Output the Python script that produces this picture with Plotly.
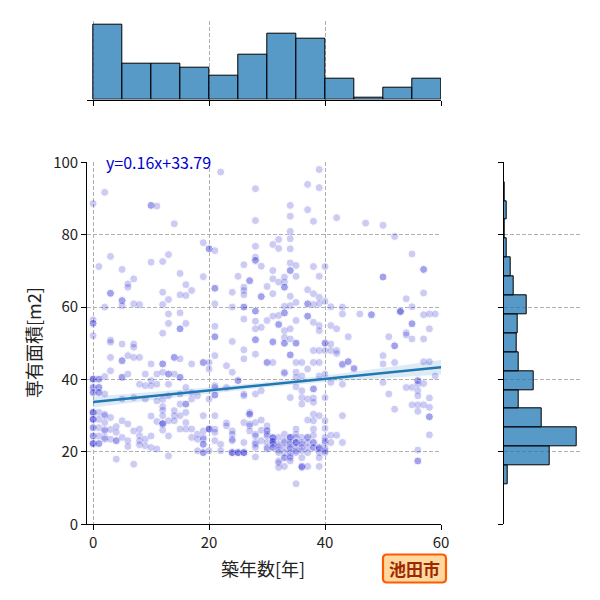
import numpy as np
import plotly.graph_objects as go

# ---------------- data ----------------
ages = [0, 1, 2, 3, 4, 5, 6, 7, 8, 9, 10, 11, 12, 13, 14, 15, 16, 17, 18, 19,
        20, 21, 22, 23, 24, 25, 26, 27, 28, 29, 30, 31, 32, 33, 34, 35, 36, 37, 38, 39,
        40, 41, 42, 43, 44, 45, 46, 47, 48, 50, 51, 52, 53, 54, 55, 56, 57, 58, 59]

area_rows = [
    [88.6, 56.5, 55.5, 55.5, 52.1, 40.1, 40.1, 40.1, 37.8, 37.8, 36.4, 36.4, 30.9, 30.9, 30.9, 29.0, 29.0, 29.0, 26.7, 26.7, 24.4, 24.4, 22.3, 22.3, 22.3],
    [71.2, 40.1, 40.1, 37.8, 37.8, 36.4, 36.4, 30.9, 29.0, 26.7, 24.4, 22.3, 22.3],
    [91.7, 60.0, 40.8, 36.0, 30.4, 30.0, 28.1, 26.2, 25.8, 24.0, 23.5],
    [74.0, 63.8, 63.8, 50.9, 50.3, 46.1, 42.4, 29.5, 26.2, 23.5],
    [27.0, 25.4, 23.1, 23.1, 18.0],
    [70.4, 61.8, 61.8, 60.4, 49.8, 45.2, 45.2, 40.6, 40.6, 34.6, 28.6, 24.0],
    [66.4, 65.5, 46.6, 41.5, 27.7, 23.1, 21.5],
    [67.8, 60.9, 49.8, 48.9, 46.1, 35.0, 25.8, 16.6],
    [60.7, 46.1, 38.7, 26.3, 24.5, 23.1, 22.0],
    [41.5, 38.3, 34.6, 23.5, 21.7],
    [88.1, 88.1, 72.4, 44.3, 39.7, 38.3, 29.9, 24.4, 21.2],
    [87.9, 41.5, 38.7, 34.1, 28.4, 20.8],
    [72.6, 64.1, 60.7, 52.8, 44.3, 44.3, 42.0, 34.5, 32.5, 31.5, 30.0, 27.8, 27.8, 27.8, 26.0],
    [74.5, 62.1, 58.1, 55.5, 41.5, 41.5, 38.7, 35.5, 28.6, 24.4, 18.9],
    [83.0, 46.1, 46.1, 41.5, 31.4, 30.0, 28.6],
    [69.3, 63.4, 58.4, 54.0, 54.0, 45.7, 40.6, 40.6, 36.0, 33.2, 30.0, 26.3],
    [66.2, 63.2, 55.5, 37.8, 33.2, 33.2, 30.9, 28.1, 26.3],
    [64.6, 44.3, 36.4, 34.6, 26.3, 24.0],
    [35.5, 24.9, 23.5, 20.3],
    [77.8, 68.4, 44.7, 44.7, 30.0, 25.8, 24.0, 23.5, 22.1, 22.1, 19.8, 19.8],
    [76.1, 76.1, 44.7, 42.9, 34.6, 26.3, 26.3, 26.3, 20.3],
    [75.6, 65.2, 65.2, 60.9, 54.7, 51.8, 51.8, 46.6, 38.3, 37.8, 35.7, 35.7, 30.0, 26.3, 25.4, 23.1],
    [97.3, 22.1, 20.3],
    [43.8, 37.8, 28.0, 27.2],
    [64.1, 60.0, 50.5, 42.0, 25.8, 24.9, 23.5, 23.1, 19.8, 19.8, 19.8],
    [68.5, 39.7, 39.7, 19.8, 19.8, 19.8],
    [71.7, 65.5, 64.6, 63.4, 60.0, 60.0, 56.7, 48.2, 45.7, 36.0, 35.5, 28.1, 22.6, 19.8, 19.8, 19.8],
    [67.3, 67.3, 30.9, 30.4, 30.4, 27.7, 27.2, 25.8],
    [92.7, 83.9, 76.8, 73.8, 72.9, 72.9, 58.9, 58.9, 56.1, 54.0, 51.0, 51.0, 47.0, 36.0, 28.1, 24.9, 24.4, 22.6, 22.1, 21.2, 18.6],
    [71.3, 62.9, 62.9, 54.4, 36.9, 28.8, 26.0, 23.1],
    [65.7, 56.3, 44.7, 44.7, 27.2, 26.0, 25.8, 24.9, 24.4, 22.6, 21.2, 20.8],
    [77.3, 70.1, 67.8, 63.7, 57.5, 50.5, 50.3, 44.7, 24.0, 24.0, 23.8, 23.0, 23.0, 22.6, 22.1, 21.2, 21.2],
    [78.7, 76.2, 66.9, 57.7, 55.3, 55.1, 24.0, 22.1, 21.5, 20.5, 19.8, 17.5, 17.0, 15.7],
    [68.3, 66.9, 65.5, 65.5, 60.2, 58.4, 58.4, 53.5, 51.6, 50.0, 50.0, 42.0, 41.7, 24.9, 23.1, 22.6, 21.2, 19.8, 18.4, 18.4, 16.0],
    [88.1, 85.1, 80.9, 78.9, 76.1, 72.2, 70.1, 70.1, 63.0, 60.4, 54.0, 51.2, 46.8, 46.8, 35.0, 24.0, 24.0, 24.0, 22.6, 22.1, 21.2, 20.8, 19.8, 18.9, 18.4, 17.5],
    [71.5, 68.5, 61.3, 56.3, 50.1, 50.0, 44.7, 42.0, 40.6, 38.0, 26.3, 24.9, 24.0, 22.6, 22.6, 22.6, 21.2, 20.3, 19.8, 11.2],
    [44.7, 41.0, 36.9, 35.0, 33.2, 24.0, 22.6, 22.1, 21.2, 20.3, 18.4, 16.0, 16.0, 15.7],
    [93.9, 86.9, 64.8, 60.9, 60.9, 57.5, 57.5, 42.9, 34.6, 28.8, 24.0, 24.0, 22.6, 21.2, 19.8, 16.0],
    [83.7, 71.2, 63.7, 60.7, 55.8, 48.0, 44.7, 37.4, 37.4, 34.9, 33.7, 30.4, 28.6, 26.3, 24.6, 22.6, 22.6, 21.2, 21.2],
    [98.0, 93.0, 68.5, 62.7, 61.0, 54.9, 53.5, 48.0, 44.7, 41.0, 30.0, 21.2, 21.2, 20.8, 19.8, 18.4, 16.0],
    [71.2, 61.6, 50.1, 50.0, 48.0, 41.5, 35.0, 28.6, 26.5, 24.0, 23.1, 22.6, 21.0, 20.3, 19.8],
    [60.1, 54.9, 49.8, 48.0, 39.2, 24.6, 22.6],
    [84.7, 54.0, 48.0, 47.2, 24.6],
    [60.0, 58.1, 44.3, 44.1, 38.7, 30.0, 22.6],
    [51.8, 45.0, 44.9],
    [43.2, 42.9],
    [58.1],
    [83.2],
    [57.9, 57.9],
    [82.6, 68.3, 68.3, 46.6, 44.3, 39.2],
    [51.8, 36.0],
    [79.5, 49.3, 49.3, 44.7, 31.8],
    [58.8, 58.8, 58.8],
    [62.3, 52.9, 52.3, 37.8],
    [74.7, 60.1, 55.4, 55.4, 51.2, 37.8, 33.0],
    [39.7, 39.7, 38.7, 36.9, 35.5, 33.0, 31.2, 20.5, 17.5, 17.5],
    [70.4, 70.4, 63.9, 57.9, 51.2, 44.9, 38.9, 33.0],
    [58.1, 54.0, 44.9, 34.9, 32.3, 29.7, 29.7, 24.7],
    [58.1, 41.0],
]

# marginal histogram counts
top_bin_left = [0, 5, 10, 15, 20, 25, 30, 35, 40, 45, 50, 55]
top_counts = [70, 33, 33, 30, 22, 42, 61, 57, 19, 2, 11, 19]
right_bin_start = 11.05
right_bin_width = 5.22
right_counts = [5, 62, 99, 52, 20, 40, 20, 17, 19, 31, 14, 9, 4, 2, 4, 1]

# regression (from the label) and its confidence band half-widths
slope, intercept = 0.16, 33.79
band_x = [0, 10, 20, 30, 40, 50, 60]
band_half = [1.5, 1.1, 0.8, 0.7, 0.9, 1.4, 2.0]

x_ticks = [0, 20, 40, 60]
y_ticks = [0, 20, 40, 60, 80, 100]

# ---------------- build ----------------
years = [a for a, row in zip(ages, area_rows) for _ in row]
area = [v for row in area_rows for v in row]

FONT = "Noto Sans CJK JP"
BAR_FILL = "rgba(31,119,180,0.75)"
GRID = "#b0b0b0"

fig = go.Figure()

bx = np.array(band_x, dtype=float)
line_y = slope * bx + intercept
hb = np.array(band_half)
fig.add_trace(go.Scatter(
    x=list(bx) + list(bx[::-1]),
    y=list(line_y + hb) + list((line_y - hb)[::-1]),
    fill="toself", fillcolor="rgba(31,119,180,0.15)", line=dict(width=0),
    mode="lines", showlegend=False, hoverinfo="skip", xaxis="x", yaxis="y"))

fig.add_trace(go.Scatter(
    x=years, y=area, mode="markers",
    marker=dict(size=8, color="#0000CD", opacity=0.2,
                line=dict(color="white", width=1)),
    showlegend=False, xaxis="x", yaxis="y"))

fig.add_trace(go.Scatter(
    x=[bx[0], bx[-1]], y=[line_y[0], line_y[-1]], mode="lines",
    line=dict(color="#1f77b4", width=2.5), showlegend=False,
    xaxis="x", yaxis="y"))

fig.add_trace(go.Bar(
    x=[b + 2.5 for b in top_bin_left], y=top_counts, width=5,
    marker=dict(color=BAR_FILL, line=dict(color="black", width=1)),
    showlegend=False, xaxis="x2", yaxis="y2"))

right_centers = [right_bin_start + (i + 0.5) * right_bin_width for i in range(len(right_counts))]
fig.add_trace(go.Bar(
    y=right_centers, x=right_counts, width=right_bin_width, orientation="h",
    marker=dict(color=BAR_FILL, line=dict(color="black", width=1)),
    showlegend=False, xaxis="x3", yaxis="y3"))

def px2x(p):
    return p / 600.0

def px2y(p):
    return 1 - p / 600.0

main_xdom = [px2x(87.3), px2x(441)]
main_ydom = [px2y(524.3), px2y(162.3)]

axis_common = dict(
    showline=True, linecolor="black", linewidth=1.2,
    ticks="outside", ticklen=5, tickwidth=1.2, tickcolor="black",
    showgrid=True, gridcolor=GRID, gridwidth=1, griddash="4px,2px",
    zeroline=False, tickfont=dict(family=FONT, size=15, color="#222"),
    automargin=False,
)

fig.update_layout(
    template="none",
    width=600, height=600,
    margin=dict(l=0, r=0, t=0, b=0, pad=0),
    paper_bgcolor="white", plot_bgcolor="white",
    font=dict(family=FONT, color="#222"),
    bargap=0,
    xaxis=dict(domain=main_xdom, range=[-1, 60], anchor="y", tickvals=x_ticks, **axis_common),
    yaxis=dict(domain=main_ydom, range=[0, 100], anchor="x", tickvals=y_ticks, **axis_common),
    xaxis2=dict(domain=main_xdom, range=[-1, 60], matches="x", anchor="y2", tickvals=x_ticks,
                showticklabels=False, **axis_common),
    yaxis2=dict(domain=[px2y(99.5), px2y(20.7)], range=[0, max(top_counts) * 1.05], anchor="x2",
                visible=False, automargin=False),
    xaxis3=dict(domain=[px2x(503.7), px2x(580.4)], range=[0, max(right_counts) * 1.05], anchor="y3",
                visible=False, automargin=False),
    yaxis3=dict(domain=main_ydom, range=[0, 100], matches="y", anchor="x3", tickvals=y_ticks,
                showticklabels=False, **axis_common),
)

# axis titles
fig.add_annotation(text="築年数[年]", xref="paper", yref="paper", x=px2x(263), y=px2y(568),
                   showarrow=False, xanchor="center", yanchor="middle",
                   font=dict(family=FONT, size=18, color="#222"))
fig.add_annotation(text="専有面積[m2]", xref="paper", yref="paper", x=px2x(33), y=px2y(343),
                   showarrow=False, xanchor="center", yanchor="middle", textangle=-90,
                   font=dict(family=FONT, size=18, color="#222"))

# regression equation
fig.add_annotation(text=f"y={slope}x+{intercept}", xref="x", yref="y", x=1.8, y=100,
                   showarrow=False, xanchor="left", yanchor="middle",
                   font=dict(family=FONT, size=16, color="#0000CD"))

# city badge (rounded box)
x0, x1, y0, y1, r = px2x(383), px2x(446), px2y(582.5), px2y(554.5), 4 / 600
path = (f"M {x0+r},{y0} L {x1-r},{y0} Q {x1},{y0} {x1},{y0+r} L {x1},{y1-r} Q {x1},{y1} {x1-r},{y1} "
        f"L {x0+r},{y1} Q {x0},{y1} {x0},{y1-r} L {x0},{y0+r} Q {x0},{y0} {x0+r},{y0} Z")
fig.add_shape(type="path", path=path, xref="paper", yref="paper",
              fillcolor="#FFD9A0", line=dict(color="#FF5A00", width=2.2), layer="above")
fig.add_annotation(text="<b>池田市</b>", xref="paper", yref="paper", x=px2x(414.5), y=px2y(568.5),
                   showarrow=False, xanchor="center", yanchor="middle",
                   font=dict(family=FONT, size=17, color="#A02800"))

fig.write_html("out.html")
